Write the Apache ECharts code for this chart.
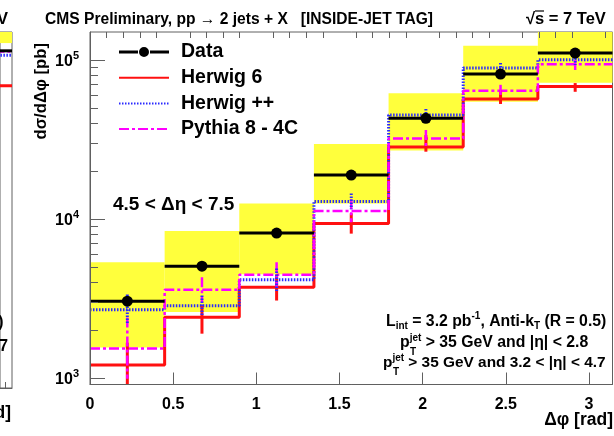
<!DOCTYPE html>
<html>
<head>
<meta charset="utf-8">
<script src="https://cdn.jsdelivr.net/npm/echarts@6/dist/echarts.min.js"></script>
<style>
  html, body { margin: 0; padding: 0; background: #ffffff; }
  #chart { width: 614px; height: 436px; }
</style>
</head>
<body>
<div id="chart"></div>
<script>
// Δφ bins (7 equal bins from 0 to π)
const binEdges = [0, 0.4488, 0.8976, 1.3464, 1.7952, 2.2440, 2.6928, 3.1416];

// Measured cross section and its systematic band [pb]
const dataValues = [3040, 5050, 8160, 18900, 43000, 81500, 110600];
const sysLow     = [1556, 2600, 4500, 12500, 27000, 54700, 72000];
const sysHigh    = [5350, 8400, 12500, 29600, 61800, 123000, 160000];

// Generator predictions with their uncertainties [pb]
const herwig6      = [1205, 2410, 3720, 9360, 28400, 56900, 68100];
const herwig6Low   = [870, 1900, 3070, 8090, 26500, 52900, 63100];
const herwig6High  = [1667, 2850, 4480, 10860, 33700, 64800, 71600];

const herwigpp     = [2682, 2850, 4150, 12900, 45100, 89000, 100300];
const herwigppLow  = [2200, 2470, 3500, 11510, 41300, 81800, 93000];
const herwigppHigh = [3350, 3300, 4890, 14450, 49200, 95900, 107500];

const pythia       = [1534, 3590, 4460, 11230, 32100, 64000, 94100];
const pythiaLow    = [988, 2980, 3710, 9530, 28800, 58600, 86500];
const pythiaHigh   = [2400, 4300, 5350, 13310, 36300, 69800, 100000];

// Last bin of the neighbouring panel (only its right edge is visible)
const nbEdges    = [2.6928, 3.1416];
const nbData     = [114500];
const nbSysLow   = [128000];
const nbSysHigh  = [200000];
const nbHerwig6  = [69500];
const nbHerwigpp = [107500];
const nbPythia   = [113500];

// Axis ranges and ticks
const xMin = 0, xMax = 3.1416;
const nbXMin = 3.0694;
const yMin = 910, yMax = 150000;
const xTicks = [0, 0.5, 1, 1.5, 2, 2.5, 3];
const xMinorTicks = [0.1, 0.2, 0.3, 0.4, 0.6, 0.7, 0.8, 0.9, 1.1, 1.2, 1.3, 1.4, 1.6, 1.7, 1.8, 1.9,
                     2.1, 2.2, 2.3, 2.4, 2.6, 2.7, 2.8, 2.9, 3.1];
const yTicks = [1000, 10000, 100000];
const yMinorTicks = [2000, 3000, 4000, 5000, 6000, 7000, 8000, 9000,
                     20000, 30000, 40000, 50000, 60000, 70000, 80000, 90000];

const FONT = '"Liberation Sans", Arial, Helvetica, sans-serif';
const AXIS = '#606060';
const YELLOW = '#ffff3c';
const RED = '#ff1010';
const BLUE = '#2a2aff';
const MAGENTA = '#ff00ff';

const redStyle = { stroke: RED, lineWidth: 3 };
const blueStyle = { stroke: BLUE, lineWidth: 3, lineDash: [1.5, 1.5] };
const magentaStyle = { stroke: MAGENTA, lineWidth: 2.5, lineDash: [10, 3, 3, 3] };

function stepData(edges, values) {
  const pts = values.map((v, i) => [edges[i], v]);
  pts.push([edges[edges.length - 1], values[values.length - 1]]);
  return pts;
}
function binTable(edges, a, b) {
  return a.map((v, i) => b ? [edges[i], edges[i + 1], v, b[i]] : [edges[i], edges[i + 1], v]);
}

function renderBand(params, api) {
  const a = api.coord([api.value(0), api.value(3)]);
  const b = api.coord([api.value(1), api.value(2)]);
  const rect = echarts.graphic.clipRectByRect(
    { x: a[0], y: a[1], width: b[0] - a[0], height: b[1] - a[1] }, params.coordSys);
  return rect && { type: 'rect', shape: rect, style: { fill: YELLOW } };
}

function errorBarRenderer(style) {
  return function (params, api) {
    const xc = (api.value(0) + api.value(1)) / 2;
    const top = api.coord([xc, api.value(3)]);
    const bot = api.coord([xc, api.value(2)]);
    const cs = params.coordSys;
    const y1 = Math.max(top[1], cs.y);
    const y2 = Math.min(bot[1], cs.y + cs.height);
    if (y2 <= y1) return null;
    return { type: 'line', shape: { x1: top[0], y1: y1, x2: top[0], y2: y2 }, style: style };
  };
}

function renderData(params, api) {
  const y = api.value(2);
  const p0 = api.coord([api.value(0), y]);
  const p1 = api.coord([api.value(1), y]);
  const cs = params.coordSys;
  const x0 = Math.max(p0[0], cs.x), x1 = Math.min(p1[0], cs.x + cs.width);
  const xc = (p0[0] + p1[0]) / 2;
  const children = [
    { type: 'line', shape: { x1: x0, y1: p0[1], x2: x1, y2: p0[1] }, style: { stroke: '#000', lineWidth: 3 } }
  ];
  if (xc >= cs.x && xc <= cs.x + cs.width) {
    children.push({ type: 'circle', shape: { cx: xc, cy: p0[1], r: 5.5 }, style: { fill: '#000' } });
  }
  return { type: 'group', children: children };
}

function stepSeries(name, values, edges, color, width, dash, xi, yi) {
  return {
    name: name, type: 'line', xAxisIndex: xi, yAxisIndex: yi,
    data: stepData(edges, values), step: 'end', symbol: 'none',
    lineStyle: { color: color, width: width, type: dash },
    itemStyle: { color: color }, z: 3, silent: true
  };
}

const labelFmt = v => '{b|10}{s|' + Math.round(Math.log10(v)) + '}';
const txt = { fontFamily: FONT, fontWeight: 'bold', color: '#000' };
const noMarker = { opacity: 0 };

const option = {
  animation: false,
  backgroundColor: '#ffffff',
  grid: [
    { left: 90, top: 32, right: 1.5, bottom: 51.5, show: true, borderColor: AXIS, borderWidth: 1, backgroundColor: 'transparent' },
    { left: 0, top: 32, width: 12, bottom: 48, show: true, borderColor: AXIS, borderWidth: 1, backgroundColor: 'transparent' }
  ],
  xAxis: [
    { type: 'value', gridIndex: 0, min: xMin, max: xMax, z: 10,
      axisLine: { show: true, onZero: false, lineStyle: { color: AXIS } },
      axisTick: { show: true, inside: true, length: 12, lineStyle: { color: AXIS }, customValues: xTicks },
      axisLabel: { customValues: xTicks, margin: 12, fontSize: 16, ...txt },
      splitLine: { show: false } },
    { type: 'value', gridIndex: 0, min: xMin, max: xMax, z: 10,
      axisLine: { show: false },
      axisTick: { show: true, inside: true, length: 6, lineStyle: { color: AXIS }, customValues: xMinorTicks },
      axisLabel: { show: false }, splitLine: { show: false } },
    { type: 'value', gridIndex: 1, min: nbXMin, max: xMax, z: 10,
      axisLine: { show: true, onZero: false, lineStyle: { color: AXIS } },
      axisTick: { show: true, inside: true, length: 6, lineStyle: { color: AXIS }, customValues: [3.1] },
      axisLabel: { show: false }, splitLine: { show: false } }
  ],
  yAxis: [
    { type: 'log', gridIndex: 0, min: yMin, max: yMax, position: 'left', z: 10,
      axisLine: { show: true, lineStyle: { color: AXIS } },
      axisTick: { show: true, inside: true, length: 15, lineStyle: { color: AXIS }, customValues: yTicks },
      axisLabel: { customValues: yTicks, margin: 11, formatter: labelFmt,
        rich: { b: { fontSize: 16, padding: [4, 0, 0, 0], ...txt }, s: { fontSize: 11, padding: [0, 0, 9, 0], ...txt } } },
      splitLine: { show: false } },
    { type: 'log', gridIndex: 0, min: yMin, max: yMax, position: 'left', z: 10,
      axisLine: { show: false },
      axisTick: { show: true, inside: true, length: 8, lineStyle: { color: AXIS }, customValues: yMinorTicks },
      axisLabel: { show: false }, splitLine: { show: false } },
    { type: 'log', gridIndex: 1, min: yMin, max: yMax, position: 'left',
      axisLine: { show: false }, axisTick: { show: false }, axisLabel: { show: false }, splitLine: { show: false } }
  ],
  legend: {
    orient: 'vertical', left: 118, top: 41, padding: 0, itemGap: 3.7,
    itemWidth: 50, itemHeight: 10, selectedMode: false,
    textStyle: { fontSize: 19.5, lineHeight: 22, padding: [0, 0, 0, 7], ...txt },
    data: [
      { name: 'Data', icon: 'path://M0,3.5H19V6.5H0Z M31,3.5H50V6.5H31Z M20,5A5,5 0 1 1 30,5A5,5 0 1 1 20,5Z' },
      { name: 'Herwig 6', itemStyle: noMarker },
      { name: 'Herwig ++', itemStyle: noMarker },
      { name: 'Pythia 8 - 4C', itemStyle: noMarker }
    ]
  },
  series: [
    // systematic band
    { name: 'Systematics', type: 'custom', xAxisIndex: 0, yAxisIndex: 0, z: 1, silent: true,
      data: binTable(binEdges, sysLow, sysHigh), encode: { x: [0, 1], y: [2, 3] }, renderItem: renderBand },
    stepSeries('Herwig 6', herwig6, binEdges, RED, 3, 'solid', 0, 0),
    stepSeries('Herwig ++', herwigpp, binEdges, BLUE, 3, [1.5, 1.5], 0, 0),
    stepSeries('Pythia 8 - 4C', pythia, binEdges, MAGENTA, 2.5, [10, 3, 3, 3], 0, 0),
    { name: 'Herwig 6 unc.', type: 'custom', xAxisIndex: 0, yAxisIndex: 0, z: 4, silent: true,
      data: binTable(binEdges, herwig6Low, herwig6High), encode: { x: [0, 1], y: [2, 3] }, renderItem: errorBarRenderer(redStyle) },
    { name: 'Pythia unc.', type: 'custom', xAxisIndex: 0, yAxisIndex: 0, z: 4, silent: true,
      data: binTable(binEdges, pythiaLow, pythiaHigh), encode: { x: [0, 1], y: [2, 3] }, renderItem: errorBarRenderer(magentaStyle) },
    { name: 'Herwig ++ unc.', type: 'custom', xAxisIndex: 0, yAxisIndex: 0, z: 4, silent: true,
      data: binTable(binEdges, herwigppLow, herwigppHigh), encode: { x: [0, 1], y: [2, 3] }, renderItem: errorBarRenderer(blueStyle) },
    { name: 'Data', type: 'custom', xAxisIndex: 0, yAxisIndex: 0, z: 5, silent: true,
      itemStyle: { color: '#000' },
      data: binTable(binEdges, dataValues), encode: { x: [0, 1], y: 2 }, renderItem: renderData },

    // neighbouring panel edge
    { name: 'nb band', type: 'custom', xAxisIndex: 2, yAxisIndex: 2, z: 1, silent: true,
      data: binTable(nbEdges, nbSysLow, nbSysHigh), renderItem: renderBand },
    stepSeries('nb h6', nbHerwig6, nbEdges, RED, 3, 'solid', 2, 2),
    stepSeries('nb hpp', nbHerwigpp, nbEdges, BLUE, 3, [1.5, 1.5], 2, 2),
    stepSeries('nb py', nbPythia, nbEdges, MAGENTA, 2.5, [10, 3, 3, 3], 2, 2),
    { name: 'nb data', type: 'custom', xAxisIndex: 2, yAxisIndex: 2, z: 5, silent: true,
      data: binTable(nbEdges, nbData), renderItem: renderData }
  ],
  graphic: [
    { type: 'text', x: 45, y: 19.6, style: { text: 'CMS Preliminary, pp \u2192 2 jets + X   [INSIDE-JET TAG]', font: 'bold 15.6px ' + FONT, fill: '#000', textVerticalAlign: 'middle' } },
    { type: 'text', x: 526, y: 19.6, style: { text: '\u221As = 7 TeV', font: 'bold 16.5px ' + FONT, fill: '#000', textVerticalAlign: 'middle' } },
    { type: 'line', shape: { x1: 535, y1: 11, x2: 544, y2: 11 }, style: { stroke: '#000', lineWidth: 1.2 } },
    { type: 'text', x: 41.7, y: 43, rotation: Math.PI / 2,
      style: { text: 'd\u03C3/d\u0394\u03C6 [pb]', font: 'bold 16.7px ' + FONT, fill: '#000', textAlign: 'right', textVerticalAlign: 'middle' } },
    { type: 'text', x: 113, y: 205,
      style: { text: '4.5 < \u0394\u03B7 < 7.5', font: 'bold 19px ' + FONT, fill: '#000', textAlign: 'left', textVerticalAlign: 'middle' } },
    { type: 'text', x: 613, y: 420,
      style: { text: '\u0394\u03C6 [rad]', font: 'bold 17.5px ' + FONT, fill: '#000', textAlign: 'right', textVerticalAlign: 'middle' } },
    // run conditions
    { type: 'text', x: 386, y: 321.7,
      style: { text: '{n|L}{sub|int}{n| = 3.2 pb}{sup|-1}{n|, Anti-k}{sub|T}{n| (R = 0.5)}',
        textAlign: 'left', textVerticalAlign: 'middle',
        rich: { n: { fontSize: 15.8, ...txt }, sub: { fontSize: 10, padding: [9, 0, 0, 0], ...txt }, sup: { fontSize: 10, padding: [0, 0, 10, 0], ...txt } } } },
    { type: 'text', x: 400, y: 343,
      style: { text: '{n|p}{sup|jet}{n| > 35 GeV and |\u03B7| < 2.8}',
        textAlign: 'left', textVerticalAlign: 'middle',
        rich: { n: { fontSize: 15.8, ...txt }, sup: { fontSize: 10, padding: [0, 0, 10, 0], ...txt } } } },
    { type: 'text', x: 410, y: 352, style: { text: 'T', font: 'bold 10px ' + FONT, fill: '#000', textVerticalAlign: 'middle' } },
    { type: 'text', x: 383, y: 363,
      style: { text: '{n|p}{sup|jet}{n| > 35 GeV and 3.2 < |\u03B7| < 4.7}',
        textAlign: 'left', textVerticalAlign: 'middle',
        rich: { n: { fontSize: 15.4, ...txt }, sup: { fontSize: 10, padding: [0, 0, 10, 0], ...txt } } } },
    { type: 'text', x: 393, y: 372, style: { text: 'T', font: 'bold 10px ' + FONT, fill: '#000', textVerticalAlign: 'middle' } },
    // text tails belonging to the neighbouring panel
    { type: 'text', x: 8, y: 19.6, style: { text: '= 7 TeV', font: 'bold 16.5px ' + FONT, fill: '#000', textAlign: 'right', textVerticalAlign: 'middle' } },
    { type: 'text', x: 3.5, y: 323, style: { text: '(R = 0.5)', font: 'bold 15.8px ' + FONT, fill: '#000', textAlign: 'right', textVerticalAlign: 'middle' } },
    { type: 'text', x: 8, y: 347, style: { text: '3.2 < |\u03B7| < 4.7', font: 'bold 15.8px ' + FONT, fill: '#000', textAlign: 'right', textVerticalAlign: 'middle' } },
    { type: 'text', x: 11, y: 413, style: { text: '\u0394\u03C6 [rad]', font: 'bold 17.5px ' + FONT, fill: '#000', textAlign: 'right', textVerticalAlign: 'middle' } }
  ]
};

const chart = echarts.init(document.getElementById('chart'), null, { renderer: 'canvas' });
chart.setOption(option);
</script>
</body>
</html>
